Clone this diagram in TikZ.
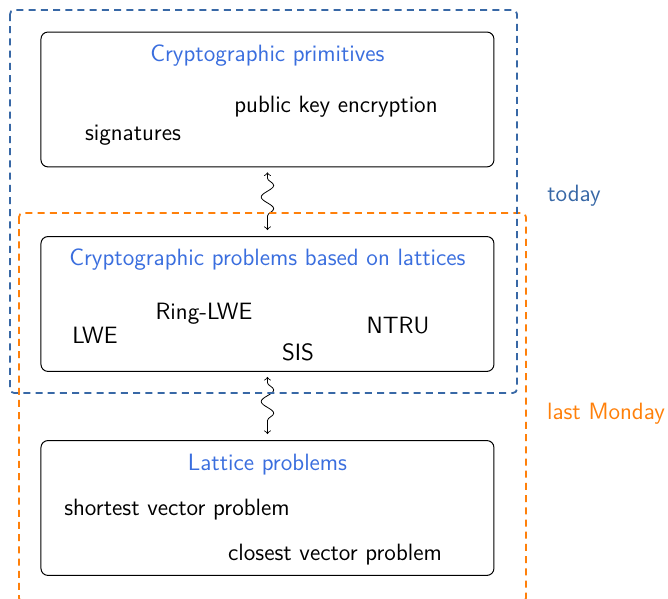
\documentclass[tikz,border=0pt]{standalone}
\usetikzlibrary{decorations.pathmorphing}
\definecolor{titleblue}{RGB}{58,110,222}
\definecolor{todayblue}{RGB}{56,104,166}
\definecolor{mondayorange}{RGB}{255,128,10}
\tikzstyle{layer}=[draw, rounded corners=3.5pt, minimum width=7.96cm, minimum height=2.37cm, line width=0.5pt]
\tikzstyle{layer title}=[text=titleblue]
\tikzstyle{item}=[]
\tikzstyle{era}=[dash pattern=on 3.5pt off 2.6pt, line width=0.9pt, rounded corners=2pt]
\tikzstyle{reduction}=[<->, thin, decorate, decoration={snake, amplitude=1.1mm, segment length=4.1mm, pre length=1mm, post length=1mm}]

\begin{document}
\begin{tikzpicture}[font=\sffamily\fontsize{11.8}{14}\selectfont]
      \useasboundingbox (0, 0) rectangle (11.739, -10.509);
      % the three layers, top to bottom
      \node[layer] (prims) at (4.70, -1.748) {};
      \node[layer] (latt) at (4.70, -5.342) {};
      \node[layer] (hard) at (4.70, -8.927) {};
      \node[layer title] (prims_title) at (4.70, -0.975) {Cryptographic primitives};
      \node[layer title] (latt_title) at (4.70, -4.56) {Cryptographic problems based on lattices};
      \node[layer title] (hard_title) at (4.70, -8.16) {Lattice problems};
      \node[item] (pke) at (5.904, -1.87) {public key encryption};
      \node[item] (sig) at (2.337, -2.38) {signatures};
      \node[item] (lwe) at (1.669, -5.89) {LWE};
      \node[item] (rlwe) at (3.585, -5.505) {Ring-LWE};
      \node[item] (sis) at (5.237, -6.19) {SIS};
      \node[item] (ntru) at (6.994, -5.715) {NTRU};
      \node[item] (svp) at (3.110, -8.95) {shortest vector problem};
      \node[item] (cvp) at (5.887, -9.74) {closest vector problem};
      \draw[reduction] ([yshift=-2.5pt]prims.south) to ([yshift=3pt]latt.north);
      \draw[reduction] ([yshift=-2.5pt]latt.south) to ([yshift=3pt]hard.north);
      % what each lecture covered
      \draw[era, mondayorange] (0.334, -3.743) rectangle (9.243, -10.58);
      \draw[era, todayblue] (0.176, -0.176) rectangle (9.085, -6.906);
      \node[text=todayblue] (today) at (10.087, -3.44) {today};
      \node[text=mondayorange] (monday) at (10.649, -7.275) {last Monday};
    \end{tikzpicture}
\end{document}
